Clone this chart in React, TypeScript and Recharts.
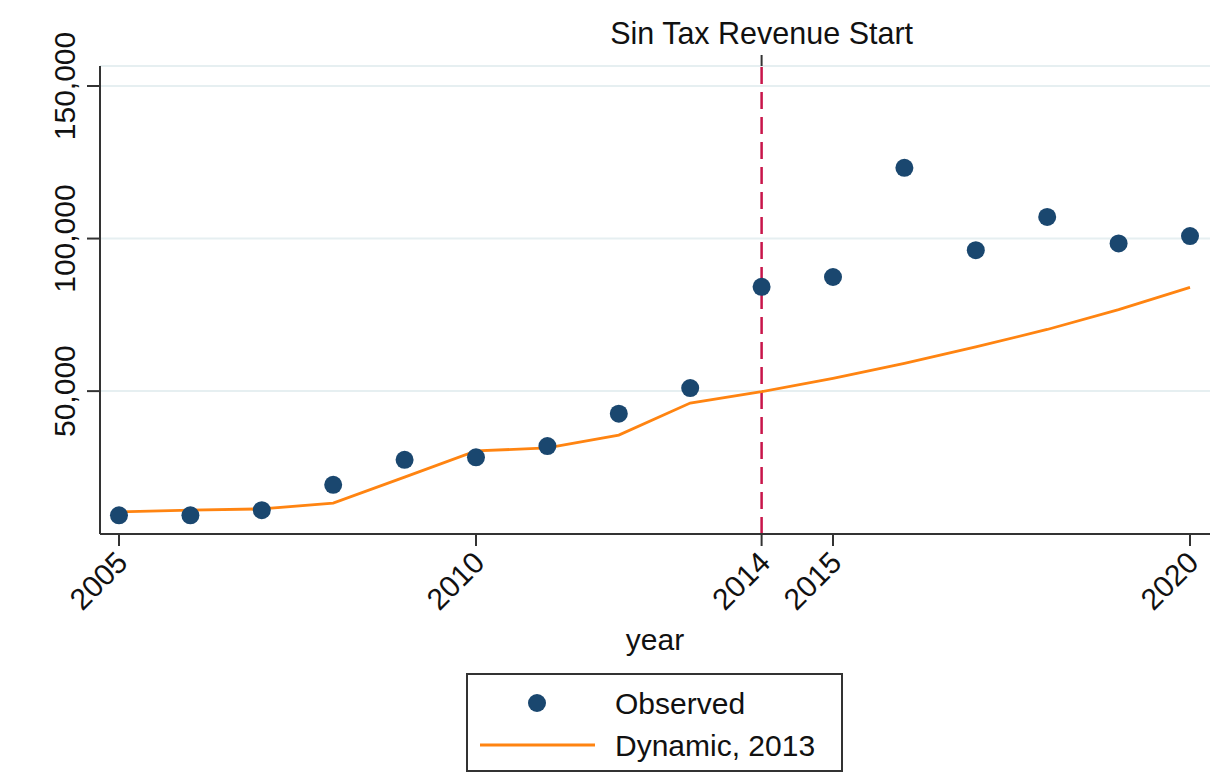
import { ComposedChart, Line, Scatter, XAxis, YAxis, CartesianGrid, ReferenceLine, Label } from 'recharts';

const years = [2005, 2006, 2007, 2008, 2009, 2010, 2011, 2012, 2013, 2014, 2015, 2016, 2017, 2018, 2019, 2020];
const observed = [9300, 9300, 11000, 19300, 27500, 28300, 32000, 42600, 51000, 84200, 87400, 123200, 96200, 107100, 98400, 100800];
const dynamic = [10400, 11000, 11400, 13300, 21800, 30400, 31400, 35600, 46100, 49800, 54200, 59100, 64500, 70200, 76700, 84000];

const yTicks = [50000, 100000, 150000];
const xTicks = [2005, 2010, 2014, 2015, 2020];
const eventYear = 2014;
const eventLabel = 'Sin Tax Revenue Start';

const data = years.map((year, i) => ({ year, observed: observed[i], dynamic: dynamic[i] }));

const FONT = '"Liberation Sans", Arial, sans-serif';
const NAVY = '#1A476F';
const ORANGE = '#FF8411';
const AXIS = '#333333';
const X_DOMAIN = [2004.734, 2020.28];

function YTick(props: any) {
  const { x, y, payload } = props;
  return (
    <text x={x} y={y} transform={`rotate(-90, ${x}, ${y})`} textAnchor="middle" fontSize={30} fontFamily={FONT} fill="#111">
      {payload.value.toLocaleString('en-US')}
    </text>
  );
}

function XTick(props: any) {
  const { x, y, payload } = props;
  const ax = x + 3;
  const ay = y + 9;
  return (
    <text x={ax} y={ay} dy="0.35em" transform={`rotate(-45, ${ax}, ${ay})`} textAnchor="end" fontSize={30} fontFamily={FONT} fill="#111">
      {payload.value}
    </text>
  );
}

function TopTick(props: any) {
  const { x, y } = props;
  return (
    <text x={x} y={y - 9} textAnchor="middle" fontSize={30.5} fontFamily={FONT} fill="#111">
      {eventLabel}
    </text>
  );
}

function Dot(props: any) {
  const { cx, cy } = props;
  return <circle cx={cx} cy={cy} r={9} fill={NAVY} />;
}

export default function App() {
  return (
    <div style={{ position: 'absolute', left: 0, top: 0, width: 1230, height: 774, background: '#fff' }}>
      <ComposedChart width={1230} height={774} data={data} margin={{ top: 16, right: 20, bottom: 140, left: 0 }}>
        <CartesianGrid vertical={false} stroke="#E6EFF1" strokeWidth={2} />
        <XAxis
          dataKey="year"
          type="number"
          domain={X_DOMAIN}
          allowDataOverflow
          ticks={xTicks}
          interval={0}
          height={100}
          axisLine={{ stroke: AXIS, strokeWidth: 2 }}
          tickLine={{ stroke: AXIS, strokeWidth: 2 }}
          tickSize={12}
          tickMargin={2}
          tick={<XTick />}
        >
          <Label
            content={({ viewBox }: any) => (
              <text x={viewBox.x + viewBox.width / 2} y={viewBox.y + 116} textAnchor="middle" fontSize={30} fontFamily={FONT} fill="#111">
                year
              </text>
            )}
          />
        </XAxis>
        <XAxis
          xAxisId="top"
          dataKey="year"
          orientation="top"
          type="number"
          domain={X_DOMAIN}
          allowDataOverflow
          ticks={[eventYear]}
          interval={0}
          height={50}
          axisLine={false}
          tickLine={{ stroke: AXIS, strokeWidth: 2 }}
          tickSize={11}
          tickMargin={2}
          tick={<TopTick />}
        />
        <YAxis
          type="number"
          domain={[3176, 156550]}
          allowDataOverflow
          ticks={yTicks}
          width={100}
          axisLine={{ stroke: AXIS, strokeWidth: 2 }}
          tickLine={{ stroke: AXIS, strokeWidth: 2 }}
          tickSize={13}
          tickMargin={12}
          tick={<YTick />}
        />
        <ReferenceLine x={eventYear} stroke="#C8154A" strokeWidth={2.5} strokeDasharray="17 8" />
        <Line dataKey="dynamic" stroke={ORANGE} strokeWidth={2.8} dot={false} activeDot={false} isAnimationActive={false} type="linear" />
        <Scatter dataKey="observed" fill={NAVY} shape={<Dot />} isAnimationActive={false} />
      </ComposedChart>
      <div style={{ position: 'absolute', left: 466, top: 673, width: 377, height: 99, boxSizing: 'border-box', border: `2px solid ${AXIS}`, background: '#fff' }}>
        <svg width={373} height={95} style={{ display: 'block' }}>
          <circle cx={69} cy={28} r={9} fill={NAVY} />
          <line x1={12} x2={127} y1={70} y2={70} stroke={ORANGE} strokeWidth={2.8} />
          <text x={147} y={39} fontSize={30} fontFamily={FONT} fill="#111">Observed</text>
          <text x={147} y={81} fontSize={30} fontFamily={FONT} fill="#111">Dynamic, 2013</text>
        </svg>
      </div>
    </div>
  );
}
